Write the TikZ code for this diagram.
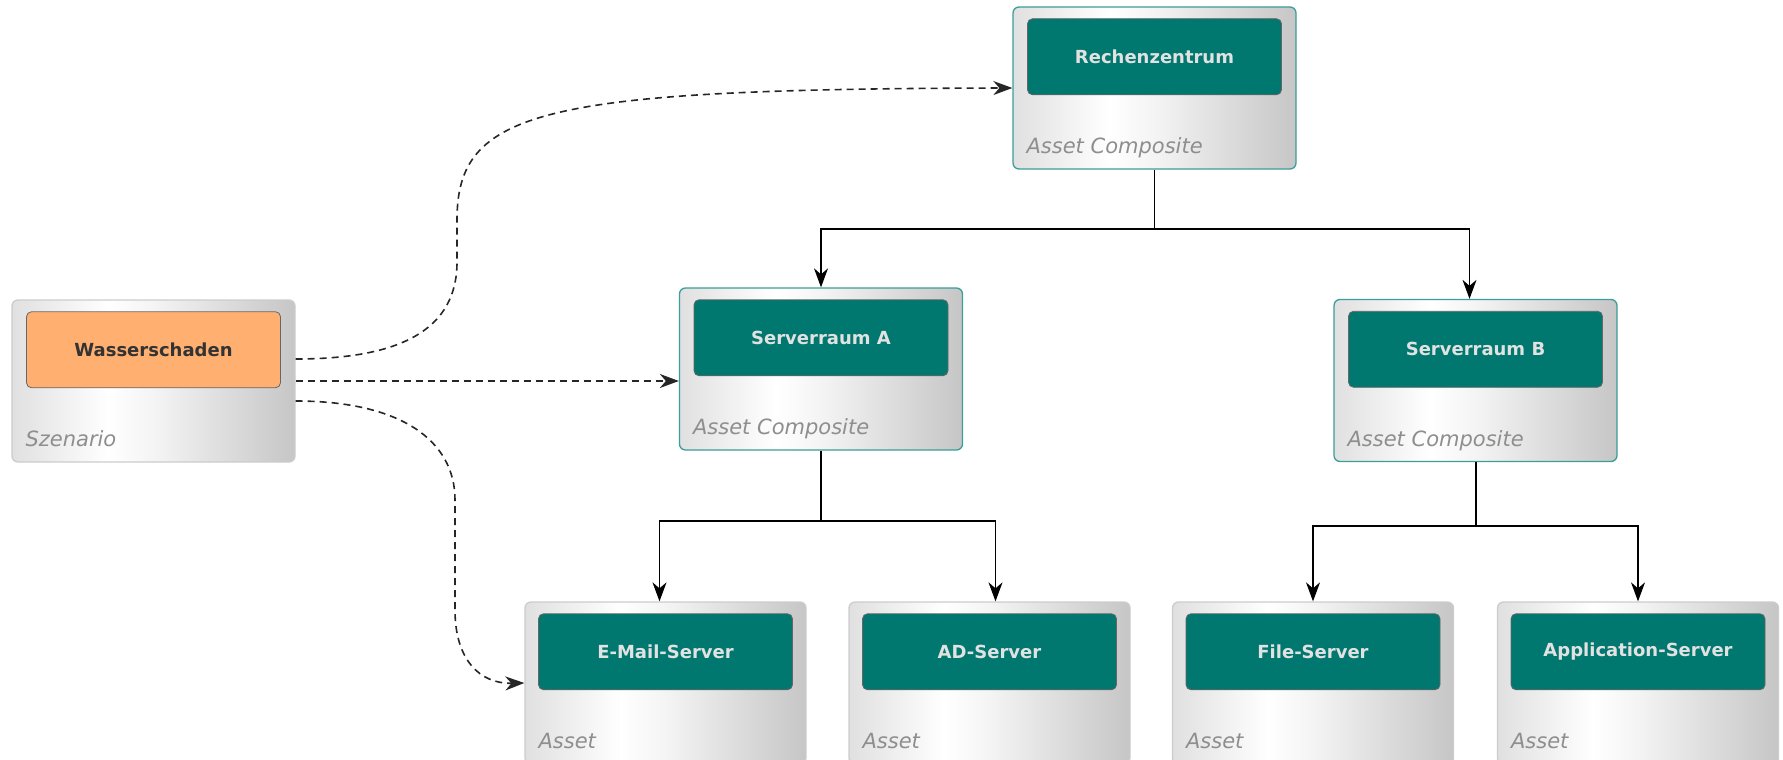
\documentclass[tikz,border=0pt]{standalone}
\usepackage{fontspec}
\setmainfont{DejaVu Sans}
\usepackage{tikz}
\usetikzlibrary{arrows.meta,positioning,calc}
\usepackage{xcolor}

\definecolor{tealfill}{HTML}{00786F}
\definecolor{tealedge}{HTML}{3A9E9A}
\definecolor{orangefill}{HTML}{FFB070}
\definecolor{shadeL}{HTML}{E0E0E0}
\definecolor{shadeM}{HTML}{F4F4F4}
\definecolor{shadeR}{HTML}{C6C6C6}
\definecolor{labelgray}{HTML}{8E8E8E}
\definecolor{textlight}{HTML}{E2E2E2}
\pgfdeclarehorizontalshading{boxshade}{100bp}{color(0bp)=(shadeL); color(25bp)=(shadeL); color(36bp)=(shadeM); color(42bp)=(white); color(50bp)=(shadeM); color(75bp)=(shadeR); color(100bp)=(shadeR)}

\begin{document}
\begin{tikzpicture}[x=1pt,y=-1pt,
    outerbox/.style={draw=#1, line width=1.3pt, rounded corners=6pt, shade, shading=boxshade,
        minimum width=283pt, minimum height=162pt, inner sep=0pt},
    outerbox/.default={gray!40},
    innerbox/.style={draw=gray!80!black, line width=0.8pt, rounded corners=5pt,
        minimum width=254pt, minimum height=76pt, inner sep=0pt,
        font=\fontsize{18}{20}\selectfont\bfseries},
    tealbox/.style={innerbox, fill=tealfill, text=textlight},
    orangebox/.style={innerbox, fill=orangefill, text=black!80},
    typelabel/.style={anchor=base west, inner sep=0pt, text=labelgray,
        font=\fontsize{21}{24}\selectfont\itshape},
    tree/.style={draw=black, line width=1.4pt},
    treearrow/.style={tree, -{Stealth[length=19pt,width=14pt,inset=6pt]}},
    dashlink/.style={treearrow, draw=black!85, line width=1.6pt, dash pattern=on 7pt off 5pt}
    ]
    \useasboundingbox (0,0) rectangle (1783,760);

    % Scenario
    \node[outerbox] (ws) at (153.5,381) {};
    \node[orangebox, below=12pt of ws.north] (wstxt) {Wasserschaden};
    \node[typelabel] (wslbl) at ([shift={(14pt,16pt)}]ws.south west) {Szenario};

    % Asset composites
    \node[outerbox=tealedge] (rz) at (1154.5,88) {};
    \node[tealbox, below=12pt of rz.north] (rztxt) {Rechenzentrum};
    \node[typelabel] (rzlbl) at ([shift={(14pt,16pt)}]rz.south west) {Asset Composite};

    \node[outerbox=tealedge] (sra) at (821,369) {};
    \node[tealbox, below=12pt of sra.north] (sratxt) {Serverraum A};
    \node[typelabel] (sralbl) at ([shift={(14pt,16pt)}]sra.south west) {Asset Composite};

    \node[outerbox=tealedge] (srb) at (1475.5,380.5) {};
    \node[tealbox, below=12pt of srb.north] (srbtxt) {Serverraum B};
    \node[typelabel] (srblbl) at ([shift={(14pt,16pt)}]srb.south west) {Asset Composite};

    % Assets
    \foreach \name/\x/\txt in {em/665.5/E-Mail-Server, ad/989.5/AD-Server,
                               fs/1313/File-Server, as/1638/Application-Server}{
        \node[outerbox, minimum width=281pt] (\name) at (\x,683) {};
        \node[tealbox, below=12pt of \name.north] (\name txt) {\txt};
        \node[typelabel] (\name lbl) at ([shift={(14pt,16pt)}]\name.south west) {Asset};
    }

    % Tree connections
    \coordinate (rzfork) at (1154.5,229);
    \draw[tree] (rz.south) -- (rzfork);
    \draw[treearrow] (rzfork) -| (sra.north);
    \draw[treearrow] (rzfork) -| ([xshift=-6pt]srb.north);

    \coordinate (srafork) at (821,521);
    \draw[tree] (sra.south) -- (srafork);
    \draw[treearrow] (srafork) -| ([xshift=-6pt]em.north);
    \draw[treearrow] (srafork) -| ([xshift=6pt]ad.north);

    \coordinate (srbfork) at (1475.5,526);
    \draw[tree, line width=2pt] (srb.south) -- (srbfork);
    \draw[treearrow] (srbfork) -| (fs.north);
    \draw[treearrow] (srbfork) -| (as.north);

    % Scenario links
    \draw[dashlink] ([yshift=22pt]ws.east) .. controls (400,359) and (457,330) .. (457,262)
        -- (457,220) .. controls (457,110) and (540,89) .. (rz.west);
    \draw[dashlink] (ws.east) -- (sra.west |- ws.east);
    \draw[dashlink] ([yshift=-20pt]ws.east) .. controls (400,401) and (455,440) .. (455,500)
        -- (455,610) .. controls (455,660) and (480,684) .. (em.west);
\end{tikzpicture}
\end{document}
